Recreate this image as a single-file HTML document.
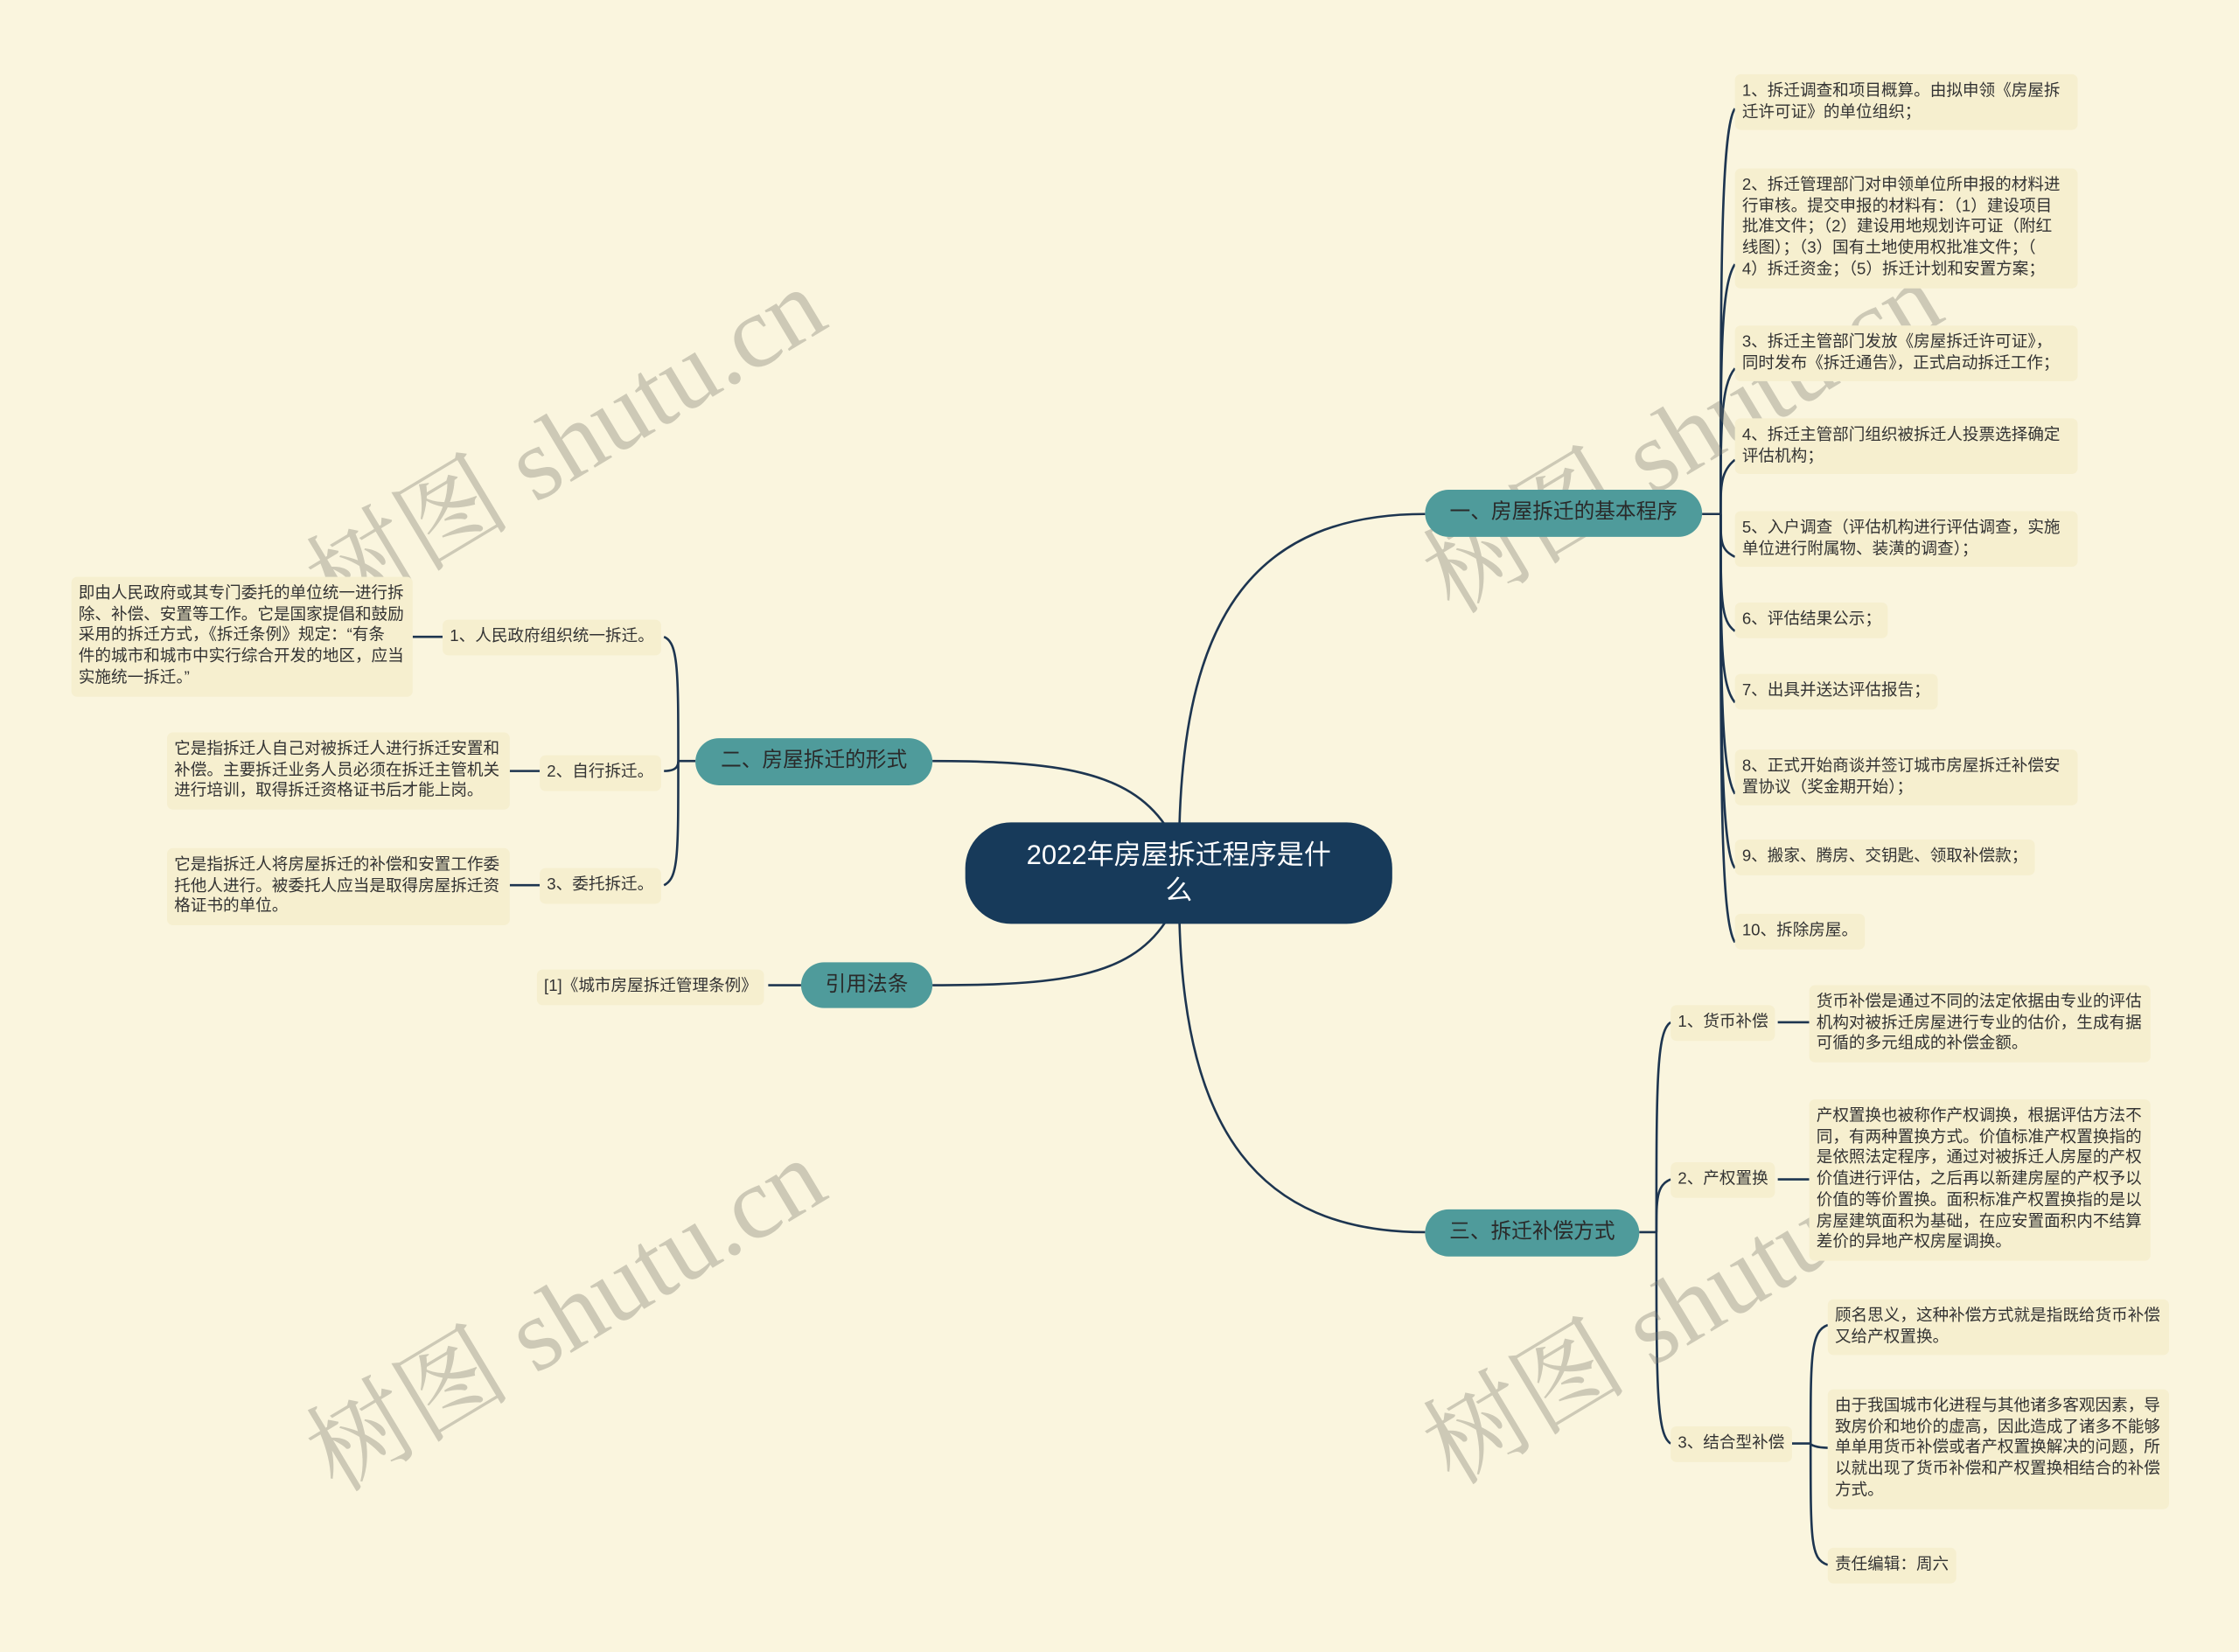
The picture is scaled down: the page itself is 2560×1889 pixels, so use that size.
<!DOCTYPE html>
<html><head><meta charset="utf-8">
<style>
html,body{margin:0;padding:0;background:#faf5de;}
#wrap{width:2560px;height:1889px;overflow:hidden;position:relative;background:#faf5de;}
#s{position:absolute;left:0;top:0;width:1568px;height:1157px;transform:scale(1.63265);transform-origin:0 0;font-family:"Liberation Sans","Noto Sans CJK SC",sans-serif;}
.l{position:absolute;background:#f6efcf;border-radius:4px;color:#333;font-size:11.4px;line-height:14.7px;padding:5px 5px;white-space:nowrap;box-sizing:border-box;}
.b{position:absolute;background:#4f9b9b;border-radius:17px;color:#2a2a2a;font-size:14.5px;text-align:center;box-sizing:border-box;white-space:nowrap;}
.wm{position:absolute;font-family:"Liberation Serif","Noto Serif CJK SC",serif;font-size:72px;color:rgba(120,120,110,0.35);transform:rotate(-31deg);transform-origin:0 0;white-space:nowrap;}
svg{position:absolute;left:0;top:0;}
</style></head><body><div id="wrap"><div id="s">
<svg width="1568" height="1157" fill="none" stroke="#1d3550" stroke-width="1.6">
<path d="M826 578 C 830 430, 880 360, 998 360"/>
<path d="M816 578 C 790 540, 740 533, 653 533"/>
<path d="M816 646 C 790 685, 740 690, 653 690"/>
<path d="M826 646 C 830 790, 880 863, 998 863"/>
<path d="M1192 360 L1205 360"/>
<path d="M1205 360 C1205 200 1205 90 1215 76"/>
<path d="M1205 360 C1205 250 1205 200 1215 185"/>
<path d="M1205 360 C1205 300 1205 270 1215 258"/>
<path d="M1205 360 C1205 340 1205 330 1215 322"/>
<path d="M1205 360 C1205 380 1205 385 1215 390"/>
<path d="M1205 360 C1205 420 1205 435 1215 442"/>
<path d="M1205 360 C1205 450 1205 480 1215 492"/>
<path d="M1205 360 C1205 470 1205 540 1215 556"/>
<path d="M1205 360 C1205 500 1205 595 1215 608"/>
<path d="M1205 360 C1205 550 1205 645 1215 660"/>
<path d="M487 533 L475 533"/>
<path d="M475 533 C475 470 475 450 465 446"/>
<path d="M475 533 C475 538 472 540 465 540"/>
<path d="M475 533 C475 600 475 615 465 620"/>
<path d="M310 446 L289 446"/>
<path d="M378 540 L357 540"/>
<path d="M378 620 L357 620"/>
<path d="M561 690 L538 690"/>
<path d="M1148 863 L1160 863"/>
<path d="M1160 863 C1160 760 1160 722 1170 716"/>
<path d="M1160 863 C1160 840 1160 830 1170 826"/>
<path d="M1160 863 C1160 970 1160 1005 1170 1011"/>
<path d="M1245 716 L1267 716"/>
<path d="M1245 826 L1267 826"/>
<path d="M1255 1011 L1268 1011"/>
<path d="M1268 1011 C1268 950 1268 932 1280 928"/>
<path d="M1268 1011 C1268 1012 1272 1014 1280 1014"/>
<path d="M1268 1011 C1268 1080 1268 1092 1280 1096"/>
</svg>

<div class="wm" style="left:193px;top:365px;">树图 shutu.cn</div>
<div class="wm" style="left:193px;top:975px;">树图 shutu.cn</div>
<div class="wm" style="left:975px;top:360px;">树图 shutu.cn</div>
<div class="wm" style="left:975px;top:970px;">树图 shutu.cn</div>

<div style="position:absolute;left:676px;top:576px;width:299px;height:71px;background:#173a5a;border-radius:32px;color:#fff;font-size:19px;line-height:25px;text-align:center;padding-top:11px;box-sizing:border-box;">2022年房屋拆迁程序是什<br>么</div>

<div class="b" style="left:998px;top:343px;width:194px;height:33px;line-height:33px;">一、房屋拆迁的基本程序</div>
<div class="b" style="left:487px;top:517px;width:166px;height:33px;line-height:33px;">二、房屋拆迁的形式</div>
<div class="b" style="left:561px;top:674px;width:92px;height:32px;line-height:32px;">引用法条</div>
<div class="b" style="left:998px;top:847px;width:150px;height:33px;line-height:33px;">三、拆迁补偿方式</div>

<div class="l" style="left:1215px;top:52px;width:240px;">1、拆迁调查和项目概算。由拟申领《房屋拆<br>迁许可证》的单位组织；</div>
<div class="l" style="left:1215px;top:118px;width:240px;">2、拆迁管理部门对申领单位所申报的材料进<br>行审核。提交申报的材料有：（1）建设项目<br>批准文件；（2）建设用地规划许可证（附红<br>线图）；（3）国有土地使用权批准文件；（<br>4）拆迁资金；（5）拆迁计划和安置方案；</div>
<div class="l" style="left:1215px;top:228px;width:240px;">3、拆迁主管部门发放《房屋拆迁许可证》，<br>同时发布《拆迁通告》，正式启动拆迁工作；</div>
<div class="l" style="left:1215px;top:293px;width:240px;">4、拆迁主管部门组织被拆迁人投票选择确定<br>评估机构；</div>
<div class="l" style="left:1215px;top:358px;width:240px;">5、入户调查（评估机构进行评估调查，实施<br>单位进行附属物、装潢的调查）；</div>
<div class="l" style="left:1215px;top:422px;">6、评估结果公示；</div>
<div class="l" style="left:1215px;top:472px;">7、出具并送达评估报告；</div>
<div class="l" style="left:1215px;top:525px;width:240px;">8、正式开始商谈并签订城市房屋拆迁补偿安<br>置协议（奖金期开始）；</div>
<div class="l" style="left:1215px;top:588px;">9、搬家、腾房、交钥匙、领取补偿款；</div>
<div class="l" style="left:1215px;top:640px;">10、拆除房屋。</div>

<div class="l" style="left:310px;top:434px;">1、人民政府组织统一拆迁。</div>
<div class="l" style="left:50px;top:404px;width:239px;">即由人民政府或其专门委托的单位统一进行拆<br>除、补偿、安置等工作。它是国家提倡和鼓励<br>采用的拆迁方式，《拆迁条例》规定：“有条<br>件的城市和城市中实行综合开发的地区，应当<br>实施统一拆迁。”</div>
<div class="l" style="left:378px;top:529px;">2、自行拆迁。</div>
<div class="l" style="left:117px;top:513px;width:240px;">它是指拆迁人自己对被拆迁人进行拆迁安置和<br>补偿。主要拆迁业务人员必须在拆迁主管机关<br>进行培训，取得拆迁资格证书后才能上岗。</div>
<div class="l" style="left:378px;top:608px;">3、委托拆迁。</div>
<div class="l" style="left:117px;top:594px;width:240px;">它是指拆迁人将房屋拆迁的补偿和安置工作委<br>托他人进行。被委托人应当是取得房屋拆迁资<br>格证书的单位。</div>
<div class="l" style="left:376px;top:679px;">[1]《城市房屋拆迁管理条例》</div>

<div class="l" style="left:1170px;top:704px;">1、货币补偿</div>
<div class="l" style="left:1267px;top:690px;width:239px;">货币补偿是通过不同的法定依据由专业的评估<br>机构对被拆迁房屋进行专业的估价，生成有据<br>可循的多元组成的补偿金额。</div>
<div class="l" style="left:1170px;top:814px;">2、产权置换</div>
<div class="l" style="left:1267px;top:770px;width:239px;">产权置换也被称作产权调换，根据评估方法不<br>同，有两种置换方式。价值标准产权置换指的<br>是依照法定程序，通过对被拆迁人房屋的产权<br>价值进行评估，之后再以新建房屋的产权予以<br>价值的等价置换。面积标准产权置换指的是以<br>房屋建筑面积为基础，在应安置面积内不结算<br>差价的异地产权房屋调换。</div>
<div class="l" style="left:1170px;top:999px;">3、结合型补偿</div>
<div class="l" style="left:1280px;top:910px;width:239px;">顾名思义，这种补偿方式就是指既给货币补偿<br>又给产权置换。</div>
<div class="l" style="left:1280px;top:973px;width:239px;">由于我国城市化进程与其他诸多客观因素，导<br>致房价和地价的虚高，因此造成了诸多不能够<br>单单用货币补偿或者产权置换解决的问题，所<br>以就出现了货币补偿和产权置换相结合的补偿<br>方式。</div>
<div class="l" style="left:1280px;top:1084px;">责任编辑：周六</div>
</div></div></body></html>
